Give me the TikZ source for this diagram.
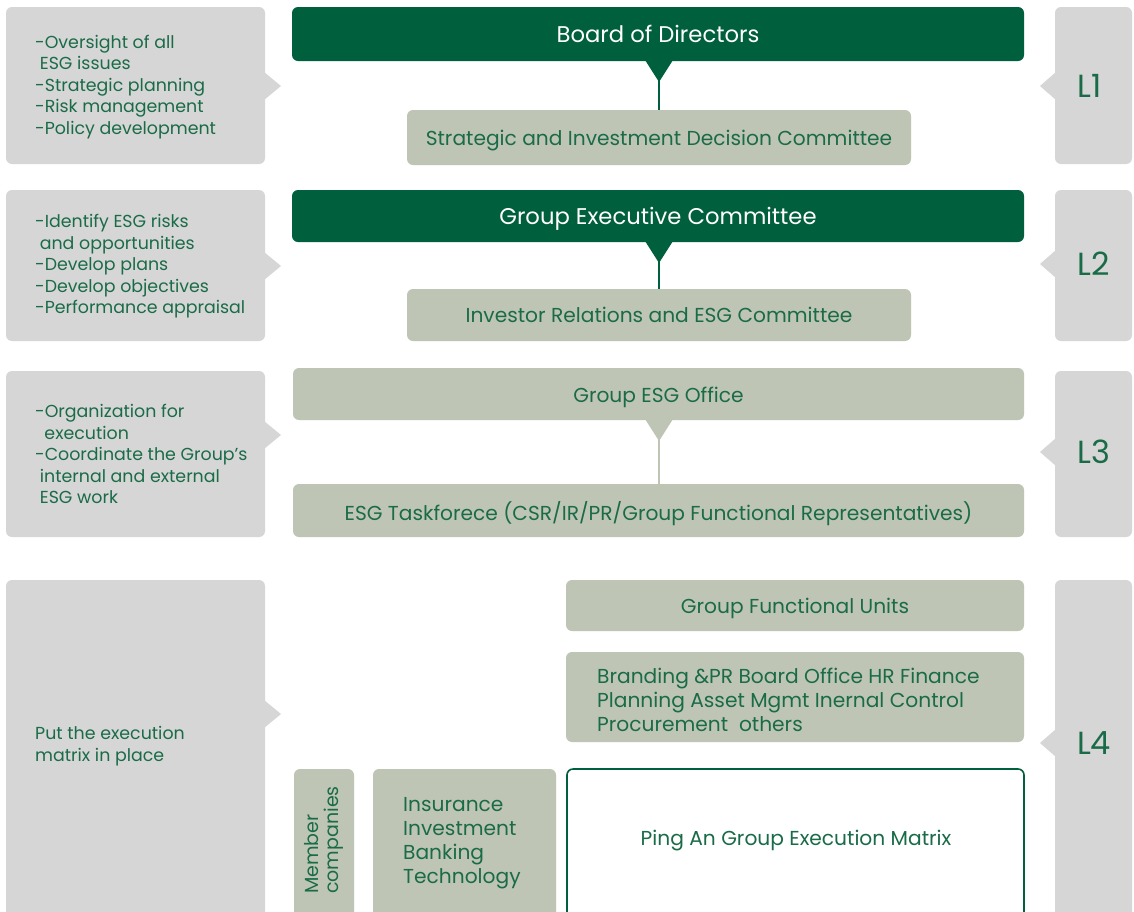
\documentclass[tikz,border=0pt]{standalone}
\usepackage{fontspec}
\setmainfont{Poppins}
\definecolor{dkgreen}{HTML}{005F3C}
\definecolor{sage}{HTML}{BFC5B5}
\definecolor{lgray}{HTML}{D6D6D6}
\definecolor{txtgreen}{HTML}{1A6B48}
\newcommand{\bx}[7]{\node[#2, minimum width={#5pt-#3pt}, minimum height={#6pt-#4pt}] (#1) at ({(#3+#5)/2},{(#4+#6)/2}) {#7};}
\newcommand{\dn}[1]{\raisebox{-3pt}[\height][\depth]{#1}}
\tikzset{
  base/.style={rounded corners=6pt, inner sep=0pt, outer sep=0pt, draw=none},
  side/.style={base, fill=lgray},
  dark/.style={base, fill=dkgreen, text=white, font=\fontsize{22.7}{26}\selectfont},
  sagebox/.style={base, fill=sage, text=txtgreen, font=\fontsize{20.2}{24}\selectfont},
  matrixbox/.style={base, fill=white, draw=dkgreen, line width=1.6pt},
  sidetext/.style={inner sep=0pt, text=txtgreen, align=left, anchor=west, font=\fontsize{17.4}{21.5}\selectfont},
  ltext/.style={inner sep=0pt, text=txtgreen, font=\fontsize{32}{34}\selectfont},
  listtext/.style={inner sep=0pt, text=txtgreen, align=left, anchor=west, font=\fontsize{20.2}{24}\selectfont},
}
\begin{document}
\begin{tikzpicture}[x=1pt,y=-1pt]
\clip (0,0) rectangle (1134,911);
\fill[white] (0,0) rectangle (1134,911);
% left side boxes
\bx{s1}{side}{6}{7}{265}{164}{}
\bx{s2}{side}{6}{190}{265}{341}{}
\bx{s3}{side}{6}{371}{265}{537}{}
\bx{s4}{side}{6}{580}{265}{930}{}
\fill[lgray] (264,72) -- (281,86) -- (264,100) -- cycle;
\fill[lgray] (264,252) -- (281,266) -- (264,280) -- cycle;
\fill[lgray] (264,421) -- (281,435) -- (264,449) -- cycle;
\fill[lgray] (264,700) -- (281,714) -- (264,728) -- cycle;
\node[sidetext] (t1) at (35,87) {-Oversight of all\\\ ESG issues\\-Strategic planning\\-Risk management\\-Policy development};
\node[sidetext] (t2) at (35,266.5) {-Identify ESG risks\\\ and opportunities\\-Develop plans\\-Develop objectives\\-Performance appraisal};
\node[sidetext] (t3) at (35,454) {-Organization for\\\ \ execution\\-Coordinate the Group's\\\ internal and external\\\ ESG work};
\node[sidetext] (t4) at (35,746) {Put the execution\\matrix in place};
% right side boxes
\bx{r1}{side}{1055}{7}{1132}{164}{}
\bx{r2}{side}{1055}{190}{1132}{341}{}
\bx{r3}{side}{1055}{371}{1132}{537}{}
\bx{r4}{side}{1055}{580}{1132}{930}{}
\fill[lgray] (1056,72) -- (1040,86) -- (1056,100) -- cycle;
\fill[lgray] (1056,250) -- (1040,264) -- (1056,278) -- cycle;
\fill[lgray] (1056,438) -- (1040,452) -- (1056,466) -- cycle;
\fill[lgray] (1056,729) -- (1040,743) -- (1056,757) -- cycle;
\node[ltext] (l1) at (1090,86) {L1};
\node[ltext] (l2) at (1094,264) {L2};
\node[ltext] (l3) at (1094,452) {L3};
\node[ltext] (l4) at (1094,743) {L4};
% L1
\bx{board}{dark}{292}{7}{1024}{61}{Board of Directors}
\bx{sidc}{sagebox}{407}{110}{911}{165}{\dn{Strategic and Investment Decision Committee}}
\fill[dkgreen] (645,60) -- (659,82) -- (673,60) -- cycle;
\draw[dkgreen, line width=2pt] (659,80) -- (sidc.north -| 659,0);
% L2
\bx{gec}{dark}{292}{190}{1024}{242}{\dn{Group Executive Committee}}
\bx{irc}{sagebox}{407}{289}{911}{341}{Investor Relations and ESG Committee}
\fill[dkgreen] (645,241) -- (659,263) -- (673,241) -- cycle;
\draw[dkgreen, line width=2pt] (659,261) -- (irc.north -| 659,0);
% L3
\bx{geo}{sagebox}{293}{368}{1024}{420}{\dn{Group ESG Office}}
\bx{etf}{sagebox}{293}{484}{1024}{537}{\dn{ESG Taskforece (CSR/IR/PR/Group Functional Representatives)}}
\fill[sage] (645,419) -- (659,441) -- (673,419) -- cycle;
\draw[sage, line width=2pt] (659,439) -- (etf.north -| 659,0);
% L4
\bx{gfu}{sagebox}{566}{580}{1024}{631}{\dn{Group Functional Units}}
\bx{fun}{sagebox}{566}{652}{1024}{742}{}
\node[listtext] (funt) at (597,700) {Branding \&PR Board Office HR Finance\\Planning Asset Mgmt Inernal Control\\Procurement\ \ others};
\bx{mem}{sagebox}{294}{769}{354}{930}{}
\node[inner sep=0pt, text=txtgreen, rotate=90, align=left, font=\fontsize{19}{20}\selectfont] (memt) at (324,840) {Member\\companies};
\bx{ind}{sagebox}{373}{769}{556}{930}{}
\node[listtext] (indt) at (403,843) {Insurance\\Investment\\Banking\\Technology};
\bx{pam}{matrixbox}{567}{769}{1024}{930}{}
\node[inner sep=0pt, text=txtgreen, font=\fontsize{20.2}{24}\selectfont] (pamt) at (796,841) {Ping An Group Execution Matrix};
\end{tikzpicture}
\end{document}
